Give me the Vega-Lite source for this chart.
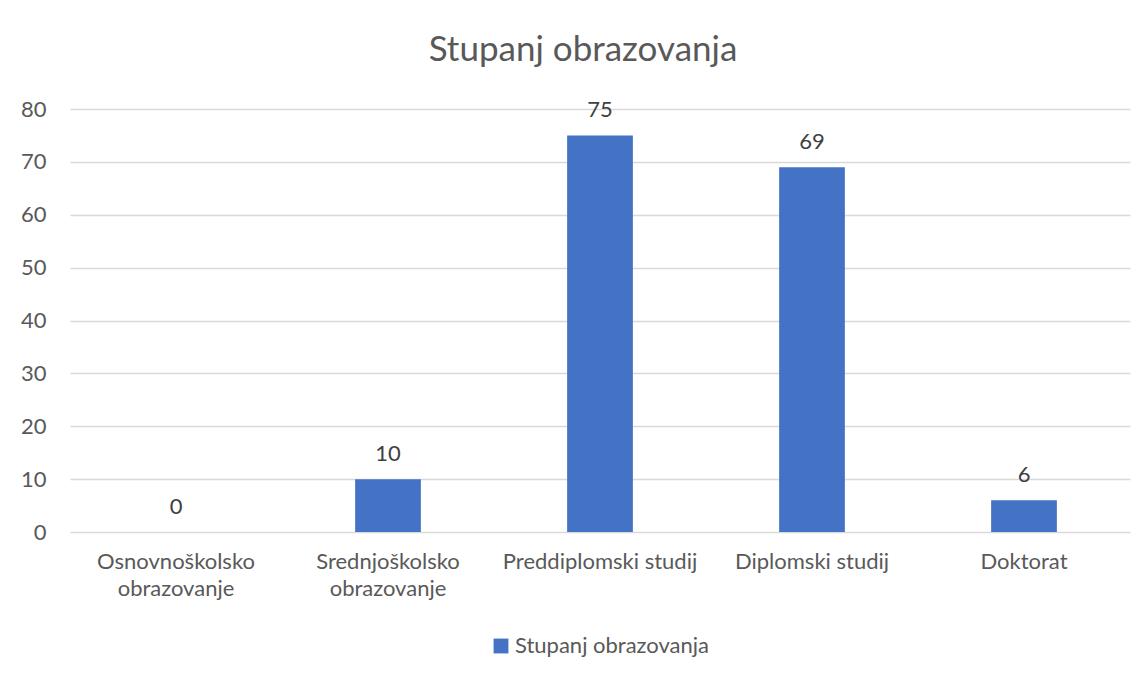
{
  "$schema": "https://vega.github.io/schema/vega-lite/v6.json",
  "autosize": {"type": "none"},
  "width": 1060,
  "height": 423,
  "padding": {"left": 70, "top": 109, "right": 16, "bottom": 144},
  "background": "white",
  "config": {
    "font": "Lato",
    "view": {"stroke": null},
    "axis": {"labelFont": "Lato", "labelColor": "#595959", "labelFontSize": 22, "titleFont": "Lato", "labelLimit": 400},
    "legend": {"labelFont": "Lato", "layout": {"bottom": {"anchor": "middle"}}}
  },
  "title": {
    "text": "Stupanj obrazovanja",
    "font": "Lato",
    "fontSize": 35,
    "fontWeight": "normal",
    "color": "#595959",
    "anchor": "middle",
    "offset": 30,
    "dx": -17
  },
  "data": {
    "values": [
      {"kategorija": "Osnovnoškolsko obrazovanje", "broj": 0, "serija": "Stupanj obrazovanja"},
      {"kategorija": "Srednjoškolsko obrazovanje", "broj": 10, "serija": "Stupanj obrazovanja"},
      {"kategorija": "Preddiplomski studij", "broj": 75, "serija": "Stupanj obrazovanja"},
      {"kategorija": "Diplomski studij", "broj": 69, "serija": "Stupanj obrazovanja"},
      {"kategorija": "Doktorat", "broj": 6, "serija": "Stupanj obrazovanja"}
    ]
  },
  "encoding": {
    "x": {
      "field": "kategorija",
      "type": "nominal",
      "sort": null,
      "scale": {"paddingInner": 0.69, "paddingOuter": 0.345},
      "axis": {
        "title": null,
        "labelAngle": 0,
        "domain": false,
        "ticks": false,
        "labelPadding": 19,
        "labelLineHeight": 27,
        "labelLimit": 400,
        "labelExpr": "indexof(datum.label, 'obrazovanje') > 0 ? split(datum.label, ' ') : datum.label"
      }
    },
    "y": {
      "field": "broj",
      "type": "quantitative",
      "scale": {"domain": [0, 80]},
      "axis": {
        "title": null,
        "values": [0, 10, 20, 30, 40, 50, 60, 70, 80],
        "domain": false,
        "ticks": false,
        "labelPadding": 24,
        "gridColor": "#d9d9d9",
        "gridWidth": 1.5
      }
    }
  },
  "layer": [
    {
      "mark": {"type": "bar", "color": "#4472C4"},
      "encoding": {
        "color": {
          "field": "serija",
          "type": "nominal",
          "scale": {"range": ["#4472C4"]},
          "legend": {
            "title": null,
            "orient": "bottom",
            "direction": "horizontal",
            "symbolType": "square",
            "symbolSize": 220,
            "symbolStrokeWidth": 0,
            "labelFontSize": 22,
            "labelLimit": 500,
            "labelColor": "#595959",
            "offset": 36,
            "labelOffset": 3
          }
        }
      }
    },
    {
      "mark": {"type": "text", "baseline": "alphabetic", "dy": -18, "fontSize": 22, "color": "#404040", "font": "Lato"},
      "encoding": {"text": {"field": "broj", "type": "quantitative"}}
    }
  ]
}
